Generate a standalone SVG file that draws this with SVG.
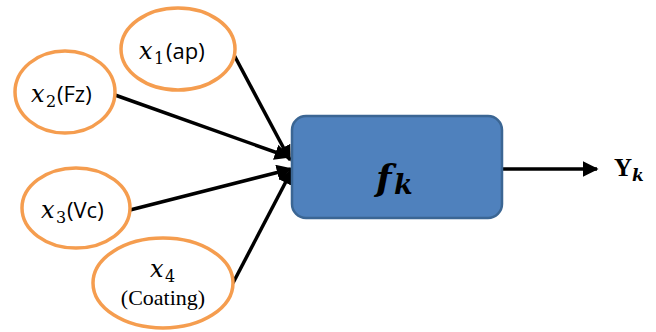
<svg xmlns="http://www.w3.org/2000/svg" width="656" height="332" viewBox="0 0 656 332">
<style>
.ell{fill:#fff;stroke:#F59D4F;stroke-width:3.5}
.edge{stroke:#000;stroke-width:3.5;fill:none}
</style>
<defs>
<marker id="ah" viewBox="0 0 10 10" refX="9" refY="5" markerWidth="4.5" markerHeight="4.5" orient="auto" markerUnits="strokeWidth">
<path d="M0,0 L10,5 L0,10 z" fill="#000"/>
</marker>
</defs>
<rect width="656" height="332" fill="#fff"/>
<g id="connectors">
<line class="edge" x1="233" y1="53" x2="290" y2="160" marker-end="url(#ah)"/>
<line class="edge" x1="115" y1="95" x2="289" y2="157" marker-end="url(#ah)"/>
<line class="edge" x1="130" y1="210" x2="291" y2="169" marker-end="url(#ah)"/>
<line class="edge" x1="233" y1="283" x2="292" y2="170" marker-end="url(#ah)"/>
<line class="edge" x1="502" y1="169" x2="597" y2="169" marker-end="url(#ah)"/>
</g>
<g id="n1">
<ellipse class="ell" cx="178" cy="49" rx="57" ry="41"/>
<text x="139" y="59" font-family="DejaVu Serif, serif" font-style="italic" font-size="24">x</text><text x="154" y="64" font-family="DejaVu Serif, serif" font-size="16">1</text><text x="166" y="59" font-family="Open Sans, sans-serif" font-size="22">(ap)</text>
</g>
<g id="n2">
<ellipse class="ell" cx="65" cy="92" rx="50" ry="41"/>
<text x="31" y="102" font-family="DejaVu Serif, serif" font-style="italic" font-size="24">x</text><text x="46" y="107" font-family="DejaVu Serif, serif" font-size="16">2</text><text x="57" y="102" font-family="Open Sans, sans-serif" font-size="22">(Fz)</text>
</g>
<g id="n3">
<ellipse class="ell" cx="76" cy="208" rx="54" ry="40"/>
<text x="41" y="218" font-family="DejaVu Serif, serif" font-style="italic" font-size="24">x</text><text x="56" y="223" font-family="DejaVu Serif, serif" font-size="16">3</text><text x="67" y="218" font-family="Open Sans, sans-serif" font-size="22">(Vc)</text>
</g>
<g id="n4">
<ellipse class="ell" cx="163" cy="283" rx="70" ry="45"/>
<text x="150" y="277" font-family="DejaVu Serif, serif" font-style="italic" font-size="24">x</text><text x="165" y="282" font-family="DejaVu Serif, serif" font-size="16">4</text>
<text x="163" y="305" text-anchor="middle" font-family="Liberation Serif, Times New Roman, serif" font-size="22">(Coating)</text>
</g>
<g id="fk">
<rect x="292" y="116" width="210" height="102" rx="14" fill="#4F81BD" stroke="#3B6694" stroke-width="2.5"/>
<text x="376" y="190" font-family="DejaVu Serif, serif" font-style="italic" font-weight="bold" font-size="36">f</text><text x="394" y="194" font-family="DejaVu Serif, serif" font-style="italic" font-weight="bold" font-size="27">k</text>
</g>
<g id="yk">
<text x="614" y="176" font-family="Liberation Serif, serif" font-weight="bold" font-size="25">Y</text><text x="632" y="181" font-family="DejaVu Serif, serif" font-style="italic" font-weight="bold" font-size="17">k</text>
</g>
</svg>
